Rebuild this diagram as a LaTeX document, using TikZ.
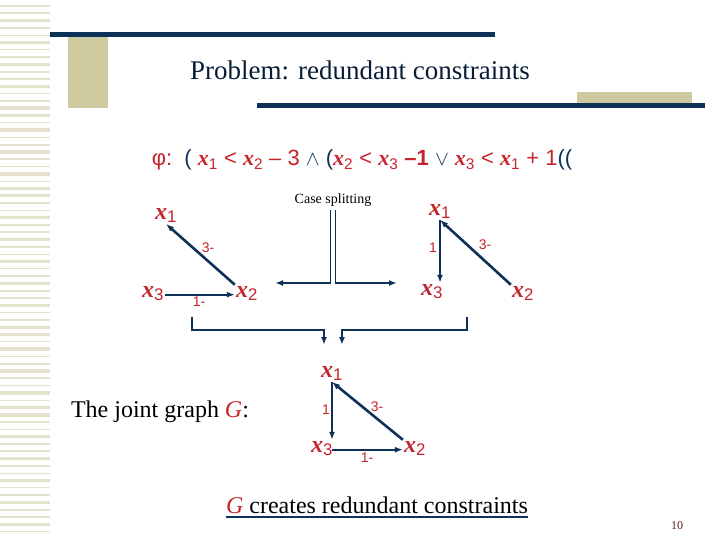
\documentclass[tikz,border=0pt]{standalone}
\usepackage{fontspec}
\setmainfont{Liberation Serif}
\newfontfamily\arial{Liberation Sans}
\usetikzlibrary{positioning,arrows.meta}
\definecolor{SlideNavy}{HTML}{0E3158}
\definecolor{SlideRed}{HTML}{C4242B}
\definecolor{SlideBeige}{HTML}{CCCA9E}
\definecolor{SlideStripe}{HTML}{E4E2CC}
\definecolor{PageNum}{HTML}{5A2020}
\newcommand{\xv}[1]{{\rmfamily\bfseries\itshape x}\textsubscript{\arial\mdseries\upshape #1}}

\begin{document}
\begin{tikzpicture}[
  x=1pt, y=-1pt,
  vtx/.style={text=SlideRed, font=\fontsize{24}{24}\selectfont, inner sep=1pt, anchor=base},
  wlab/.style={text=SlideRed, font=\arial\fontsize{14}{14}\selectfont, inner sep=1pt},
  edge/.style={-{Latex[length=8pt,width=6pt]}, SlideNavy, line width=1.6pt},
  heavy/.style={edge, line width=2.6pt},
  bracket/.style={edge, line width=2.4pt}
]
\useasboundingbox (0,0) rectangle (720,540);
% slide decoration
\foreach \y [count=\i] in {6,13.3,...,534}{
  \pgfmathsetmacro{\w}{ifthenelse(mod(\i,3)==0,3.4,ifthenelse(mod(\i,2)==0,2.2,1.3))}
  \draw[SlideStripe, line width=\w pt] (0,\y) -- (50,\y);
}
\fill[SlideNavy] (50,32) rectangle (495,37);
\fill[SlideBeige] (68,37) rectangle (108,108);
\fill[SlideBeige] (577,92) rectangle (692,103);
\fill[SlideNavy] (257,103) rectangle (705,108);
\node[text=SlideNavy!60!black, font=\fontsize{27}{27}\selectfont] (title) at (360,70) {Problem: redundant constraints};

% formula
\node[font=\arial\fontsize{22}{22}\selectfont, text=SlideRed, inner sep=0pt] (phi) at (362,160)
  {φ:\ \ \textcolor{SlideNavy}{(}\ \xv{1} < \xv{2} – 3 \textcolor{SlideNavy}{$\wedge$} \textcolor{SlideNavy}{(}\xv{2} < \xv{3} \textbf{–1} \textcolor{SlideNavy}{$\vee$}\ \xv{3} < \xv{1} + 1\textcolor{SlideNavy}{((}};

% first case
\node[vtx] (a1) at (166,219) {\xv{1}};
\node[vtx] (a3) at (153,297) {\xv{3}};
\node[vtx] (a2) at (247,297) {\xv{2}};
\draw[edge] (a3.mid east) -- (a2.mid west);
\draw[heavy] (a2.north west) -- (a1.south);
\node[wlab] (a12) at (208,248) {3-};
\node[wlab] (a32) at (199,302) {1-};

% case splitting
\node[font=\fontsize{14}{14}\selectfont] (case) at (333,200) {Case splitting};
\coordinate (cl) at (275,283);
\coordinate (cr) at (397,283);
\draw[edge] ([xshift=-2.5pt]case.south) |- (cl);
\draw[edge] ([xshift=2.5pt]case.south) |- (cr);

% second case
\node[vtx] (b1) at (440,215) {\xv{1}};
\node[vtx] (b3) at (432,295) {\xv{3}};
\node[vtx] (b2) at (523,297) {\xv{2}};
\draw[edge] (b1.south) -- (b1.south |- b3.north);
\draw[heavy] (b2.north west) -- (b1.south);
\node[wlab] (b13) at (433,248) {1};
\node[wlab] (b21) at (485,245) {3-};

% merging
\coordinate (ml) at (192,317);
\coordinate (mr) at (467,317);
\coordinate (jl) at (324,345);
\coordinate (jr) at (342,345);
\draw[bracket] (ml) -- ++(0,13) -| (jl);
\draw[bracket] (mr) -- ++(0,13) -| (jr);

% joint graph
\node[font=\fontsize{24}{24}\selectfont] (joint) at (160,412) {The joint graph \textcolor{SlideRed}{\textit{G}}:};
\node[vtx] (c1) at (332,377) {\xv{1}};
\node[vtx] (c3) at (322,452) {\xv{3}};
\node[vtx] (c2) at (415,452) {\xv{2}};
\draw[edge] (c1.south) -- (c1.south |- c3.north);
\draw[edge] (c1.south |- c3.mid) -- (c2.mid west);
\draw[heavy] (c2.north west) -- (c1.south);
\node[wlab] (c13) at (326,410) {1};
\node[wlab] (c21) at (377,407) {3-};
\node[wlab] (c32) at (367,458) {1-};

% conclusion
\node[font=\fontsize{24}{24}\selectfont, inner sep=0pt] (concl) at (377,505) {\textcolor{SlideRed}{\textit{G}} creates redundant constraints};
\draw[SlideNavy, line width=1.5pt] ([yshift=-4pt]concl.base west) -- ([yshift=-4pt]concl.base east);
\node[text=PageNum, font=\fontsize{12}{12}\selectfont] (page) at (677,526) {10};
\end{tikzpicture}
\end{document}
